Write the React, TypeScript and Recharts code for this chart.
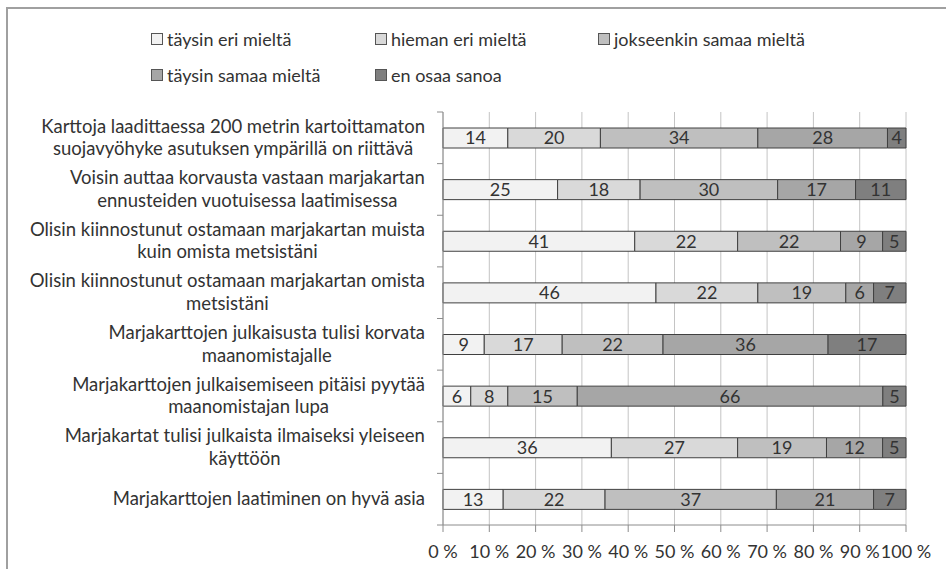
import React from "react";
import {
  BarChart,
  Bar,
  XAxis,
  YAxis,
  CartesianGrid,
  LabelList,
} from "recharts";

// statements, each split into the lines shown on the axis
const statements: string[][] = [
  ["Karttoja laadittaessa 200 metrin kartoittamaton", "suojavyöhyke asutuksen ympärillä on riittävä"],
  ["Voisin auttaa korvausta vastaan marjakartan", "ennusteiden vuotuisessa laatimisessa"],
  ["Olisin kiinnostunut ostamaan marjakartan muista", "kuin omista metsistäni"],
  ["Olisin kiinnostunut ostamaan marjakartan omista", "metsistäni"],
  ["Marjakarttojen julkaisusta tulisi korvata", "maanomistajalle"],
  ["Marjakarttojen julkaisemiseen pitäisi pyytää", "maanomistajan lupa"],
  ["Marjakartat tulisi julkaista ilmaiseksi yleiseen", "käyttöön"],
  ["Marjakarttojen laatiminen on hyvä asia"],
];

const taysinEri = [14, 25, 41, 46, 9, 6, 36, 13];
const hiemanEri = [20, 18, 22, 22, 17, 8, 27, 22];
const jokseenkinSamaa = [34, 30, 22, 19, 22, 15, 19, 37];
const taysinSamaa = [28, 17, 9, 6, 36, 66, 12, 21];
const enOsaa = [4, 11, 5, 7, 17, 5, 5, 7];

const seriesNames = [
  "täysin eri mieltä",
  "hieman eri mieltä",
  "jokseenkin samaa mieltä",
  "täysin samaa mieltä",
  "en osaa sanoa",
];
const seriesKeys = ["s1", "s2", "s3", "s4", "s5"];
const seriesColors = ["#f2f2f2", "#d9d9d9", "#bfbfbf", "#a6a6a6", "#7f7f7f"];

const xTicks = [0, 10, 20, 30, 40, 50, 60, 70, 80, 90, 100];

const FONT = "Lato, 'Open Sans', sans-serif";
const TEXT = "#333333";

const data = statements.map((lines, i) => ({
  name: lines.join(" "),
  s1: taysinEri[i],
  s2: hiemanEri[i],
  s3: jokseenkinSamaa[i],
  s4: taysinSamaa[i],
  s5: enOsaa[i],
}));

let ctx: CanvasRenderingContext2D | null = null;
const measure = (t: string, font: string) => {
  if (!ctx) ctx = document.createElement("canvas").getContext("2d");
  if (!ctx) return t.length * 8;
  ctx.font = font;
  return ctx.measureText(t).width;
};

const Y_TICK_SIZE = 8;
const Y_TICK_MARGIN = 10;
const LABEL_SIZE = 18.5;
const LINE_H = 22.4;

const StatementTick = (props: any) => {
  const { x, y, payload, index } = props;
  const lines = statements[index] ?? [String(payload.value)];
  const widths = lines.map((l) => measure(l, `${LABEL_SIZE}px Lato`));
  const blockW = Math.max(...widths);
  const cx = x - blockW / 2;
  const axisX = x + Y_TICK_SIZE + Y_TICK_MARGIN;
  const half = payload.offset || 25.8;
  const top = y - 1 - ((lines.length - 1) * LINE_H) / 2;
  return (
    <g>
      <line x1={axisX - 6} x2={axisX} y1={y - half} y2={y - half} stroke="#8c8c8c" />
      {index === statements.length - 1 && (
        <line x1={axisX - 6} x2={axisX} y1={y + half} y2={y + half} stroke="#8c8c8c" />
      )}
      {lines.map((l, i) => (
        <text
          key={i}
          x={cx}
          y={top + i * LINE_H}
          dominantBaseline="central"
          textAnchor="middle"
          fontFamily={FONT}
          fontSize={LABEL_SIZE}
          fill={TEXT}
        >
          {l}
        </text>
      ))}
    </g>
  );
};

const Legend = () => {
  const cols = [151, 375, 598];
  const rows = [39, 75];
  return (
    <>
      {seriesNames.map((n, i) => {
        const left = cols[i % 3];
        const top = rows[Math.floor(i / 3)];
        return (
          <div
            key={n}
            style={{
              position: "absolute",
              left,
              top: top - 12,
              height: 24,
              display: "flex",
              alignItems: "center",
              gap: 4,
              fontFamily: FONT,
              fontSize: 18,
              color: TEXT,
              whiteSpace: "nowrap",
            }}
          >
            <span
              style={{
                display: "inline-block",
                width: 10,
                height: 10,
                background: seriesColors[i],
                border: "1px solid #555",
              }}
            />
            {n}
          </div>
        );
      })}
    </>
  );
};

export default function App() {
  return (
    <div
      style={{
        position: "absolute",
        left: 0,
        top: 0,
        width: 946,
        height: 569,
        background: "#fff",
        overflow: "hidden",
      }}
    >
      {/* outer frame, runs off the right and bottom edges */}
      <div
        style={{
          position: "absolute",
          left: 6,
          top: 7,
          width: 960,
          height: 580,
          border: "2px solid #a0a0a0",
        }}
      />
      <Legend />
      <div style={{ position: "absolute", left: 0, top: 0 }}>
        <BarChart
          width={946}
          height={569}
          data={data}
          layout="vertical"
          stackOffset="expand"
          barSize={20}
          margin={{ top: 112, right: 40, bottom: 0, left: 0 }}
        >
          <CartesianGrid horizontal={false} stroke="#c4c4c4" />
          <XAxis
            type="number"
            domain={[0, 1]}
            ticks={xTicks.map((t) => t / 100)}
            tickFormatter={(v: number) => `${Math.round(v * 100)} %`}
            height={44}
            tickSize={7}
            tickMargin={13}
            stroke="#8c8c8c"
            tick={{ fontFamily: FONT, fontSize: 18, fill: TEXT }}
            interval={0}
          />
          <YAxis
            type="category"
            dataKey="name"
            width={443}
            tickSize={Y_TICK_SIZE}
            tickMargin={Y_TICK_MARGIN}
            tickLine={false}
            stroke="#8c8c8c"
            tick={<StatementTick />}
            interval={0}
          />
          {seriesKeys.map((k, i) => (
            <Bar
              key={k}
              dataKey={k}
              name={seriesNames[i]}
              stackId="a"
              fill={seriesColors[i]}
              stroke="#404040"
              strokeWidth={1}
              isAnimationActive={false}
            >
              <LabelList
                dataKey={k}
                position="center"
                fill={TEXT}
                fontFamily={FONT}
                fontSize={18}
              />
            </Bar>
          ))}
        </BarChart>
      </div>
    </div>
  );
}
